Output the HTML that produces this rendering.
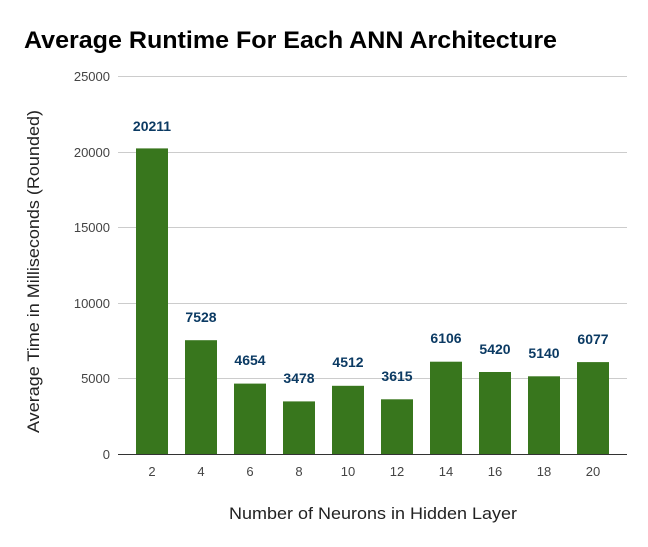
<!DOCTYPE html>
<html><head><style>body{margin:0;background:#fff}svg{display:block}</style></head><body>
<svg width="648" height="547" xmlns="http://www.w3.org/2000/svg" font-family="Liberation Sans, Arial, sans-serif">
<rect width="648" height="547" fill="#fff"/>
<text x="24" y="48" font-size="24" font-weight="bold" fill="#000" textLength="533" lengthAdjust="spacingAndGlyphs">Average Runtime For Each ANN Architecture</text>
<g stroke="#cccccc" stroke-width="1">
<line x1="118" x2="627" y1="76.5" y2="76.5"/>
<line x1="118" x2="627" y1="152.5" y2="152.5"/>
<line x1="118" x2="627" y1="227.5" y2="227.5"/>
<line x1="118" x2="627" y1="303.5" y2="303.5"/>
<line x1="118" x2="627" y1="378.5" y2="378.5"/>
</g>
<g font-size="13" fill="#444" text-anchor="end">
<text x="110" y="81">25000</text>
<text x="110" y="157">20000</text>
<text x="110" y="232">15000</text>
<text x="110" y="308">10000</text>
<text x="110" y="383">5000</text>
<text x="110" y="459">0</text>
</g>
<g fill="#38761d">
<rect x="136" y="148.4" width="32" height="305.6"/>
<rect x="185" y="340.2" width="32" height="113.8"/>
<rect x="234" y="383.6" width="32" height="70.4"/>
<rect x="283" y="401.4" width="32" height="52.6"/>
<rect x="332" y="385.8" width="32" height="68.2"/>
<rect x="381" y="399.3" width="32" height="54.7"/>
<rect x="430" y="361.7" width="32" height="92.3"/>
<rect x="479" y="372.0" width="32" height="82.0"/>
<rect x="528" y="376.3" width="32" height="77.7"/>
<rect x="577" y="362.1" width="32" height="91.9"/>
</g>
<line x1="118" x2="627" y1="454.5" y2="454.5" stroke="#333"/>
<g font-size="14" font-weight="bold" fill="#0b3a63" text-anchor="middle">
<text x="152" y="131">20211</text>
<text x="201" y="322">7528</text>
<text x="250" y="365">4654</text>
<text x="299" y="383">3478</text>
<text x="348" y="367">4512</text>
<text x="397" y="381">3615</text>
<text x="446" y="343">6106</text>
<text x="495" y="354">5420</text>
<text x="544" y="358">5140</text>
<text x="593" y="344">6077</text>
</g>
<g font-size="13" fill="#444" text-anchor="middle">
<text x="152" y="476">2</text><text x="201" y="476">4</text><text x="250" y="476">6</text>
<text x="299" y="476">8</text><text x="348" y="476">10</text><text x="397" y="476">12</text>
<text x="446" y="476">14</text><text x="495" y="476">16</text><text x="544" y="476">18</text>
<text x="593" y="476">20</text>
</g>
<text x="229" y="519" font-size="17" fill="#222" textLength="288" lengthAdjust="spacingAndGlyphs">Number of Neurons in Hidden Layer</text>
<text transform="translate(39,433) rotate(-90)" font-size="17" fill="#222" textLength="323" lengthAdjust="spacingAndGlyphs">Average Time in Milliseconds (Rounded)</text>
</svg>
</body></html>
